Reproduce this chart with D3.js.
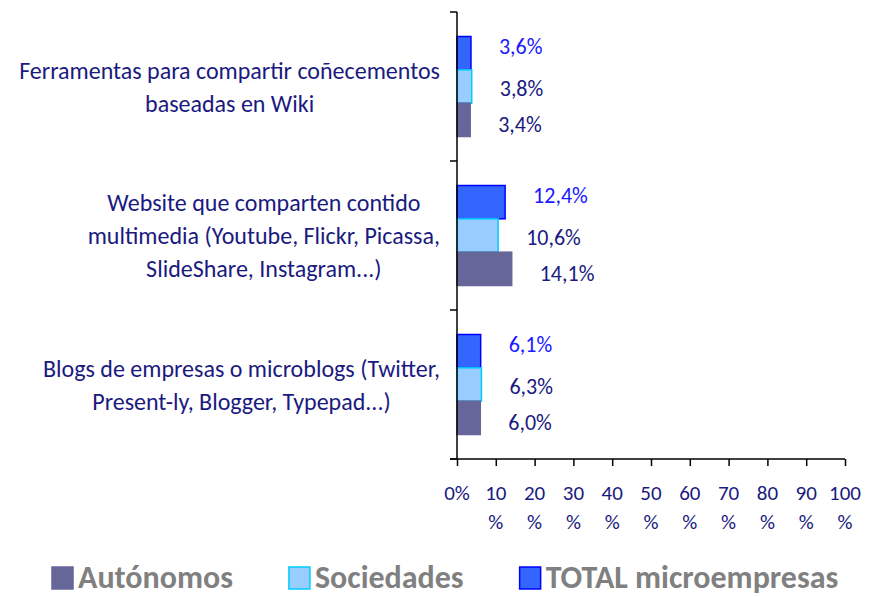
<!DOCTYPE html>
<html>
<head>
<meta charset="utf-8">
<script src="https://cdn.jsdelivr.net/npm/d3@7"></script>
<style>
  body { margin: 0; background: #fff; }
  svg { display: block; font-family: Carlito, Calibri, Lato, sans-serif; }
</style>
</head>
<body>
<svg id="chart" width="869" height="597"></svg>
<script>

// Categories (each one split in lines as in the original chart)
var categories = [
    ["Ferramentas para compartir coñecementos", "baseadas en Wiki"],
    ["Website que comparten contido", "multimedia (Youtube, Flickr, Picassa,", "SlideShare, Instagram...)"],
    ["Blogs de empresas o microblogs (Twitter,", "Present-ly, Blogger, Typepad...)"]
];

// Series values (percent)
var autonomos  = [3.4, 14.1, 6.0];
var sociedades = [3.8, 10.6, 6.3];
var total      = [3.6, 12.4, 6.1];

// Tick values for the x axis
var xTicks = [0, 10, 20, 30, 40, 50, 60, 70, 80, 90, 100];

// Series setup: order from top to bottom inside each group
var series = [
    {name: "TOTAL microempresas", values: total,      fill: "#3366FF", stroke: "#0000FF", label: "#1A1AFF", dy: -7},
    {name: "Sociedades",          values: sociedades, fill: "#99CCFF", stroke: "#00CCFF", label: "#1A1A80", dy: 2},
    {name: "Autónomos",           values: autonomos,  fill: "#666699", stroke: "#666699", label: "#1A1A80", dy: 5}
];
var legendOrder = [2, 1, 0];

var svg = d3.select("#chart");
var navy = "#1A1A80";

// Set up the plot area (note: "top" is reserved on window, so use plot* names)
var plotLeft = 457, plotRight = 845, plotTop = 12, plotBottom = 459;

// Build x scale
var x = d3.scaleLinear()
    .domain([0, 100])
    .range([plotLeft, plotRight]);

// Build y scale for the groups and an inner scale for the bars
var y = d3.scaleBand()
    .domain(d3.range(categories.length))
    .range([plotTop, plotBottom])
    .padding(0);

var y1 = d3.scaleBand()
    .domain(d3.range(series.length))
    .range([0, y.bandwidth()])
    .paddingInner(0)
    .paddingOuter(0.735);

// Build the bars
series.forEach(function(s, si) {
    svg.append("g").selectAll("rect")
        .data(s.values)
        .enter()
        .append("rect")
        .attr("x", x(0))
        .attr("y", function(d, i) { return y(i) + y1(si) })
        .attr("width", function(d) { return x(d) - x(0) })
        .attr("height", y1.bandwidth())
        .style("fill", s.fill)
        .style("stroke", s.stroke)
        .style("stroke-width", 1.5);

    // Value labels
    svg.append("g").selectAll("text")
        .data(s.values)
        .enter()
        .append("text")
        .attr("x", function(d) { return x(d) + 28 })
        .attr("y", function(d, i) { return y(i) + y1(si) + y1.bandwidth() / 2 + s.dy })
        .attr("dominant-baseline", "central")
        .style("font-size", "22px")
        .style("fill", s.label)
        .text(function(d) { return d.toFixed(1).replace(".", ",") + "%" });
});

// Y axis line and ticks at the group edges
svg.append("line")
    .attr("x1", plotLeft).attr("x2", plotLeft)
    .attr("y1", plotTop).attr("y2", plotBottom)
    .style("stroke", "#000").style("stroke-width", 1.5);

svg.append("g").selectAll("line")
    .data(d3.range(categories.length + 1))
    .enter()
    .append("line")
    .attr("x1", plotLeft - 7).attr("x2", plotLeft)
    .attr("y1", function(i) { return plotTop + i * y.step() })
    .attr("y2", function(i) { return plotTop + i * y.step() })
    .style("stroke", "#000").style("stroke-width", 1.5);

// X axis
var xAxis = svg.append("g")
    .attr("transform", "translate(0," + plotBottom + ")")
    .call(d3.axisBottom(x).tickValues(xTicks).tickSize(7).tickFormat(""));
xAxis.select(".domain").remove();
xAxis.selectAll(".tick line").style("stroke", "#000").style("stroke-width", 1.5);
xAxis.append("line")
    .attr("x1", plotLeft - 7).attr("x2", plotRight)
    .style("stroke", "#000").style("stroke-width", 1.5);

// X tick labels (number and % on two lines, except 0%)
var tickLabels = svg.append("g").selectAll("text")
    .data(xTicks)
    .enter()
    .append("text")
    .attr("text-anchor", "middle")
    .style("font-size", "21px")
    .style("fill", navy);
tickLabels.append("tspan")
    .attr("x", function(d) { return x(d) })
    .attr("y", 500)
    .text(function(d) { return d == 0 ? "0%" : d });
tickLabels.filter(function(d) { return d != 0 })
    .append("tspan")
    .attr("x", function(d) { return x(d) })
    .attr("y", 529)
    .text("%");

// Category labels: lines centred in a box that is right-aligned at x=440
var lineH = 33;
categories.forEach(function(lines, ci) {
    var g = svg.append("g");
    var cy = y(ci) + y.bandwidth() / 2;
    var texts = g.selectAll("text")
        .data(lines)
        .enter()
        .append("text")
        .attr("text-anchor", "middle")
        .attr("dominant-baseline", "central")
        .attr("y", function(d, i) { return cy + (i - (lines.length - 1) / 2) * lineH })
        .style("font-size", "24px")
        .style("fill", navy)
        .text(function(d) { return d });
    var maxW = d3.max(texts.nodes(), function(n) { return n.getComputedTextLength() });
    texts.attr("x", 440 - maxW / 2);
});

// Legend
var legend = svg.append("g").attr("transform", "translate(52,577)");
var lx = 0;
legendOrder.forEach(function(si) {
    var s = series[si];
    legend.append("rect")
        .attr("x", lx).attr("y", -10)
        .attr("width", 21).attr("height", 22)
        .style("fill", s.fill)
        .style("stroke", s.stroke)
        .style("stroke-width", 1.5);
    var t = legend.append("text")
        .attr("x", lx + 26)
        .attr("dominant-baseline", "central")
        .style("font-size", "32px")
        .style("font-weight", "bold")
        .style("fill", "#808080")
        .text(s.name);
    lx += 26 + t.node().getComputedTextLength() + 56;
});

</script>
</body>
</html>
